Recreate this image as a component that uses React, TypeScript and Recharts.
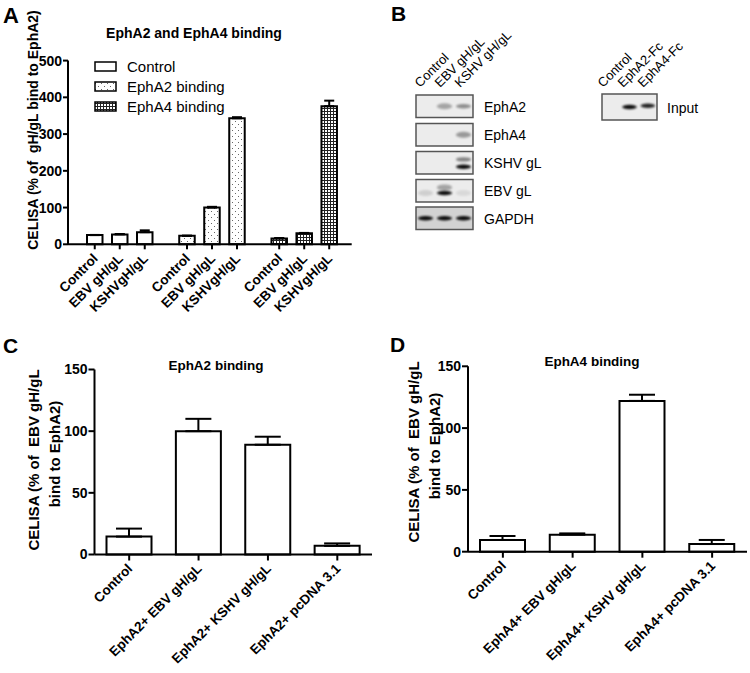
import React from "react";
import { BarChart, Bar, Cell, XAxis, YAxis, ErrorBar, LabelList, Legend } from "recharts";

const FONT = '"Liberation Sans", Arial, Helvetica, sans-serif';

// Panel A: EphA2 and EphA4 binding
const groupNames = ["Control", "EphA2 binding", "EphA4 binding"];
const sampleNames = ["Control", "EBV gH/gL", "KSHVgH/gL"];
const controlMeans = [25, 27, 33];
const controlErr = [0.5, 1, 5];
const epha2Means = [23, 100, 343];
const epha2Err = [0.5, 2, 3];
const epha4Means = [16, 30, 376];
const epha4Err = [1, 1, 15];
const aTicks = [0, 100, 200, 300, 400, 500];

// Panel C: EphA2 binding
const cLabels = ["Control", "EphA2+ EBV gH/gL", "EphA2+ KSHV gH/gL", "EphA2+ pcDNA 3.1"];
const cMeans = [14.5, 100, 89, 7];
const cErr = [6.5, 10, 6.5, 2];

// Panel D: EphA4 binding
const dLabels = ["Control", "EphA4+ EBV gH/gL", "EphA4+ KSHV gH/gL", "EphA4+ pcDNA 3.1"];
const dMeans = [9.5, 13.8, 122, 6.2];
const dErr = [3.2, 1, 5, 3.3];
const cdTicks = [0, 50, 100, 150];

// Panel B: western blot (lane, position in strip, band strength)
const blotLanes = ["Control", "EBV gH/gL", "KSHV gH/gL"];
const blotRows = ["EphA2", "EphA4", "KSHV gL", "EBV gL", "GAPDH"];
const blotBands = [
  [[1, 0.5, 0.3], [2, 0.5, 0.4]],
  [[2, 0.5, 0.35]],
  [[2, 0.35, 0.45], [2, 0.68, 0.95]],
  [[0, 0.6, 0.12], [1, 0.35, 0.3], [1, 0.6, 0.95], [2, 0.6, 0.08]],
  [[0, 0.5, 0.95], [1, 0.5, 0.95], [2, 0.5, 0.95]],
];
const inputLanes = ["Control", "EphA2-Fc", "EphA4-Fc"];
const inputBands = [[1, 0.5, 0.95], [2, 0.45, 0.85]];

const groupFills = ["#ffffff", "url(#dots)", "url(#checks)"];
const groupMeans = [controlMeans, epha2Means, epha4Means];
const groupErr = [controlErr, epha2Err, epha4Err];

const dataA = groupNames.map((g, gi) => {
  const row: Record<string, any> = { group: g };
  sampleNames.forEach((_, si) => {
    row[`s${si}`] = groupMeans[gi][si];
    row[`e${si}`] = [0, groupErr[gi][si]];
  });
  return row;
});
const dataC = cLabels.map((name, i) => ({ name, value: cMeans[i], err: [0, cErr[i]] }));
const dataD = dLabels.map((name, i) => ({ name, value: dMeans[i], err: [0, dErr[i]] }));

const axisStyle = { stroke: "#000", strokeWidth: 2 };
const yTick = { fill: "#000", fontSize: 14, fontWeight: "bold", fontFamily: FONT };

// tick + rotated label under each bar of panel A
function SampleTick(props: any) {
  const vb = props.viewBox && props.viewBox.width !== undefined ? props.viewBox : props;
  const cx = vb.x + vb.width / 2;
  const base = vb.y + vb.height;
  const tx = cx + 4;
  const ty = base + 15;
  return (
    <g>
      <line x1={cx} x2={cx} y1={base} y2={base + 5} stroke="#000" strokeWidth={2} />
      <text
        x={tx}
        y={ty}
        transform={`rotate(-45 ${tx} ${ty})`}
        textAnchor="end"
        fontSize={13.5}
        fontWeight="bold"
        fontFamily={FONT}
        fill="#000"
      >
        {props.name}
      </text>
    </g>
  );
}

function RotTick({ x, y, payload }: any) {
  const tx = x + 4;
  const ty = y + 7;
  return (
    <text
      x={tx}
      y={ty}
      transform={`rotate(-45 ${tx} ${ty})`}
      textAnchor="end"
      fontSize={13.5}
      fontWeight="bold"
      fontFamily={FONT}
      fill="#000"
    >
      {payload.value}
    </text>
  );
}

function LegendA() {
  return (
    <svg width={200} height={60} style={{ display: "block" }}>
      {groupNames.map((g, i) => (
        <g key={g}>
          <rect x={1} y={i * 20 + 4} width={21} height={9} fill={groupFills[i]} stroke="#000" strokeWidth={1.5} />
          <text x={33} y={i * 20 + 14} fontSize={15} fontFamily={FONT} fill="#000">
            {g}
          </text>
        </g>
      ))}
    </svg>
  );
}

function Blot({ x, y, w, h, bands, dark }: any) {
  const lw = w / 3;
  return (
    <g>
      <rect x={x} y={y} width={w} height={h} fill={dark ? "#d2d2d2" : "#ececec"} stroke="#555" strokeWidth={1.5} />
      {bands.map(([lane, pos, k]: number[], i: number) => (
        <ellipse
          key={i}
          cx={x + lw * (lane + 0.5)}
          cy={y + h * pos}
          rx={lw * 0.4}
          ry={k < 0.4 ? 3 : 2.2}
          fill="#000"
          opacity={k}
          filter="url(#blur)"
        />
      ))}
    </g>
  );
}

function LaneLabels({ x0, step, names }: any) {
  return (
    <g>
      {names.map((n: string, i: number) => {
        const tx = x0 + i * step;
        const ty = 88;
        return (
          <text key={n} x={tx} y={ty} transform={`rotate(-45 ${tx} ${ty})`} fontSize={13} fontFamily={FONT} fill="#000">
            {n}
          </text>
        );
      })}
    </g>
  );
}

function Overlay() {
  const rowY = [95, 123.5, 151.5, 179.5, 207];
  return (
    <svg width={750} height={673} style={{ position: "absolute", left: 0, top: 0, pointerEvents: "none" }}>
      <g fontFamily={FONT} fontWeight="bold" fill="#000">
        <text x={3} y={23} fontSize={22}>A</text>
        <text x={391} y={21} fontSize={21}>B</text>
        <text x={3} y={353} fontSize={21}>C</text>
        <text x={390} y={352} fontSize={21}>D</text>
        <text x={194} y={38} fontSize={14} textAnchor="middle">EphA2 and EphA4 binding</text>
        <text x={216} y={370} fontSize={13.5} textAnchor="middle">EphA2 binding</text>
        <text x={592} y={366} fontSize={13.5} textAnchor="middle">EphA4 binding</text>
        <text x={33} y={130} fontSize={14} textAnchor="middle" dominantBaseline="central" transform="rotate(-90 33 130)">
          {"CELISA (% of \u00A0gH/gL bind to EphA2)"}
        </text>
        <text x={33} y={460} fontSize={15} textAnchor="middle" dominantBaseline="central" transform="rotate(-90 33 460)">
          {"CELISA (% of \u00A0EBV gH/gL"}
        </text>
        <text x={54} y={454} fontSize={15} textAnchor="middle" dominantBaseline="central" transform="rotate(-90 54 454)">
          bind to EphA2)
        </text>
        <text x={413} y={452} fontSize={15} textAnchor="middle" dominantBaseline="central" transform="rotate(-90 413 452)">
          {"CELISA (% of \u00A0EBV gH/gL"}
        </text>
        <text x={434.5} y={446} fontSize={15} textAnchor="middle" dominantBaseline="central" transform="rotate(-90 434.5 446)">
          bind to EphA2)
        </text>
      </g>

      {/* western blots */}
      <LaneLabels x0={420} step={20} names={blotLanes} />
      {blotRows.map((r, i) => (
        <g key={r}>
          <Blot x={416} y={rowY[i]} w={57} h={22.5} bands={blotBands[i]} dark={r === "GAPDH"} />
          <text x={484} y={rowY[i] + 11.5} dominantBaseline="central" fontSize={14} fontFamily={FONT} fill="#000">
            {r}
          </text>
        </g>
      ))}
      <LaneLabels x0={603} step={20} names={inputLanes} />
      <Blot x={602} y={94} w={55} h={26} bands={inputBands} />
      <text x={667} y={107.5} dominantBaseline="central" fontSize={14} fontFamily={FONT} fill="#000">
        Input
      </text>
    </svg>
  );
}

export default function App() {
  return (
    <div style={{ position: "absolute", left: 0, top: 0, width: 750, height: 673, background: "#fff", fontFamily: FONT }}>
      <svg width={0} height={0} style={{ position: "absolute" }}>
        <defs>
          <pattern id="dots" width={6} height={6} patternUnits="userSpaceOnUse">
            <rect width={6} height={6} fill="#fff" />
            <rect x={1} y={1} width={1} height={1} fill="#666" />
            <rect x={4} y={4} width={1} height={1} fill="#666" />
          </pattern>
          <pattern id="checks" width={3} height={3} patternUnits="userSpaceOnUse">
            <rect width={3} height={3} fill="#fff" />
            <rect x={0} y={0} width={3} height={1} fill="#222" />
            <rect x={0} y={0} width={1} height={3} fill="#222" />
          </pattern>
          <filter id="blur" x="-50%" y="-100%" width="200%" height="300%">
            <feGaussianBlur stdDeviation={1.1} />
          </filter>
        </defs>
      </svg>

      {/* Panel A */}
      <div style={{ position: "absolute", left: 0, top: 0 }}>
        <BarChart
          width={370}
          height={330}
          data={dataA}
          margin={{ top: 60.6, right: 18.3, bottom: 75.7, left: 28 }}
          barSize={15.5}
          barGap={9.5}
        >
          <XAxis dataKey="group" tick={false} tickLine={false} axisLine={axisStyle} height={10} padding={{ left: 6, right: 1 }} />
          <YAxis
            domain={[0, 500]}
            ticks={aTicks}
            width={40}
            tick={yTick}
            tickSize={5}
            tickMargin={1}
            tickLine={axisStyle}
            axisLine={axisStyle}
          />
          <Legend
            layout="vertical"
            align="center"
            verticalAlign="middle"
            wrapperStyle={{ left: 94, top: 57.5, width: 200, height: 60 }}
            content={() => <LegendA />}
          />
          {sampleNames.map((s, si) => (
            <Bar key={s} dataKey={`s${si}`} stroke="#000" strokeWidth={2} isAnimationActive={false}>
              {dataA.map((_, gi) => (
                <Cell key={gi} fill={groupFills[gi]} />
              ))}
              <ErrorBar dataKey={`e${si}`} width={5} stroke="#000" strokeWidth={2} direction="y" />
              <LabelList dataKey={`s${si}`} content={(p: any) => <SampleTick {...p} name={s} />} />
            </Bar>
          ))}
        </BarChart>
      </div>

      {/* Panel C */}
      <div style={{ position: "absolute", left: 0, top: 330 }}>
        <BarChart width={380} height={343} data={dataC} margin={{ top: 39.5, right: 8, bottom: 0, left: 54.5 }} barSize={45}>
          <XAxis
            dataKey="name"
            interval={0}
            height={118.5}
            tick={<RotTick />}
            tickSize={6}
            tickLine={axisStyle}
            axisLine={axisStyle}
          />
          <YAxis
            domain={[0, 150]}
            ticks={cdTicks}
            width={40}
            tick={{ ...yTick, fontSize: 14 }}
            tickSize={6}
            tickMargin={1}
            tickLine={axisStyle}
            axisLine={axisStyle}
          />
          <Bar dataKey="value" fill="#fff" stroke="#000" strokeWidth={2} isAnimationActive={false}>
            <ErrorBar dataKey="err" width={13} stroke="#000" strokeWidth={2} direction="y" />
          </Bar>
        </BarChart>
      </div>

      {/* Panel D */}
      <div style={{ position: "absolute", left: 375, top: 330 }}>
        <BarChart width={375} height={343} data={dataD} margin={{ top: 36.3, right: 3, bottom: 0, left: 53 }} barSize={45}>
          <XAxis
            dataKey="name"
            interval={0}
            height={121.3}
            tick={<RotTick />}
            tickSize={6}
            tickLine={axisStyle}
            axisLine={axisStyle}
          />
          <YAxis
            domain={[0, 150]}
            ticks={cdTicks}
            width={40}
            tick={{ ...yTick, fontSize: 14 }}
            tickSize={6}
            tickMargin={1}
            tickLine={axisStyle}
            axisLine={axisStyle}
          />
          <Bar dataKey="value" fill="#fff" stroke="#000" strokeWidth={2} isAnimationActive={false}>
            <ErrorBar dataKey="err" width={13} stroke="#000" strokeWidth={2} direction="y" />
          </Bar>
        </BarChart>
      </div>

      <Overlay />
    </div>
  );
}
